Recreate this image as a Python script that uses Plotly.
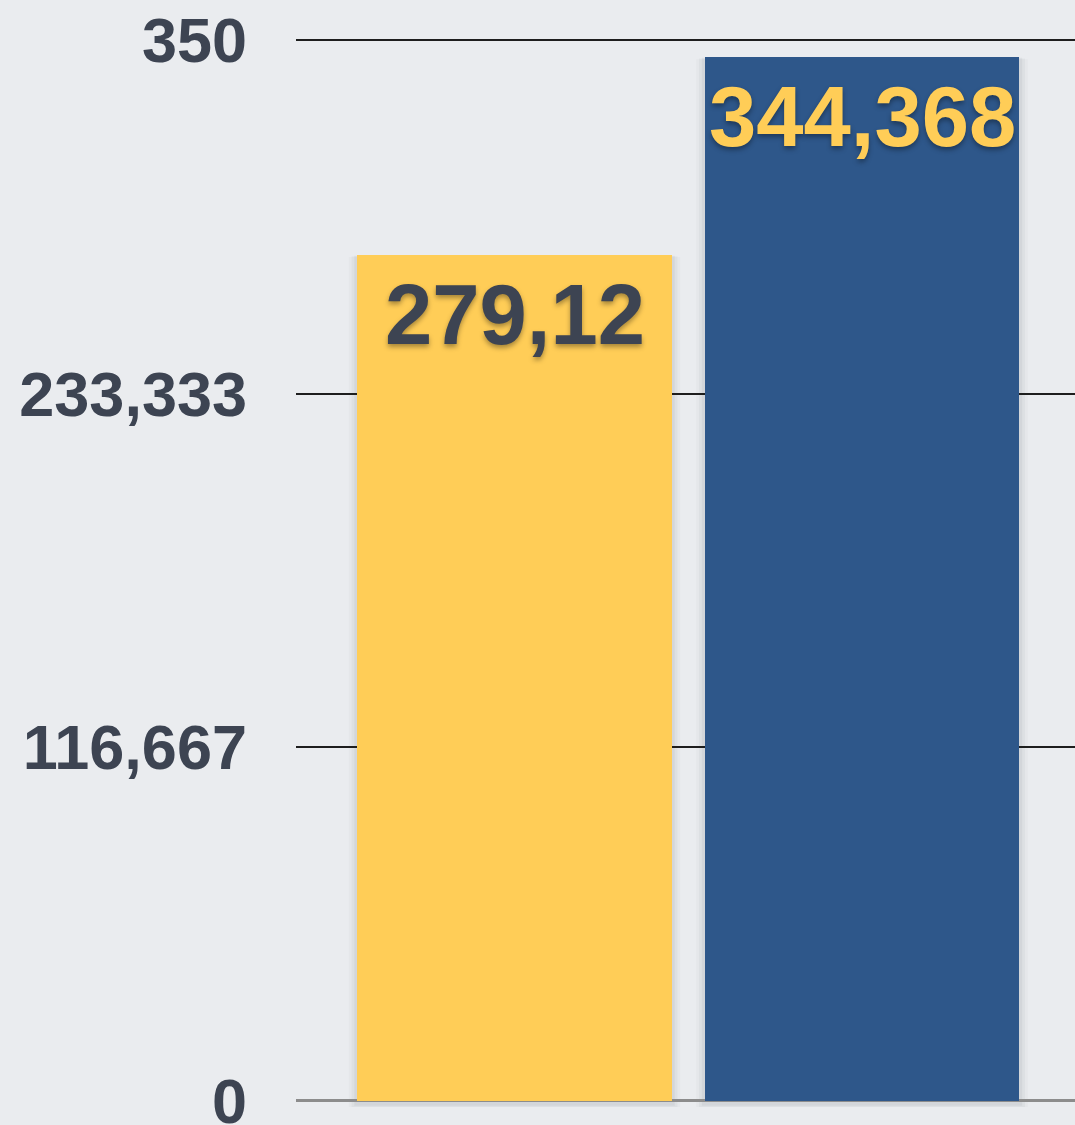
import plotly.graph_objects as go

# Bar data
categories = ["A", "B"]
values = [279120, 344368]
value_labels = ["279,12", "344,368"]
bar_colors = ["#FFCD57", "#2E578A"]
label_colors = ["#3D4452", "#FFCD57"]

# Y axis ticks
tick_values = [0, 116667, 233333, 350000]
tick_labels = ["0", "116,667", "233,333", "350"]

x_pos = list(range(len(categories)))

fig = go.Figure()

# soft drop shadow layers under each bar
for spread, alpha in [(0.024, 0.025), (0.016, 0.035), (0.008, 0.05)]:
    for xi, v in zip(x_pos, values):
        fig.add_shape(
            type="rect", xref="x", yref="y",
            x0=xi - 0.453 - spread, x1=xi + 0.453 + spread,
            y0=-spread * 200000, y1=v - spread * 30000,
            fillcolor=f"rgba(40,45,60,{alpha})", line_width=0, layer="below",
        )

fig.add_trace(go.Bar(
    x=x_pos, y=values, width=0.906,
    marker=dict(color=bar_colors, line_width=0),
    hoverinfo="skip", showlegend=False,
))

for xi, v, t, c in zip(x_pos, values, value_labels, label_colors):
    fig.add_annotation(
        x=xi, y=v, xref="x", yref="y", text=f"<b>{t}</b>",
        showarrow=False, yanchor="top", xanchor="center", yshift=-10,
        font=dict(family="Liberation Sans, Arial, sans-serif", size=85, color=c,
                  shadow="0px 3px 5px rgba(0,0,0,0.35)"),
    )

fig.update_layout(
    width=1075, height=1125,
    margin=dict(l=296, r=0, t=34, b=18, autoexpand=False),
    paper_bgcolor="#EAECEF", plot_bgcolor="rgba(0,0,0,0)",
    bargap=0,
    xaxis=dict(range=[-0.629, 1.613], showgrid=False, zeroline=False,
               showticklabels=False, ticks="", fixedrange=True, automargin=False),
    yaxis=dict(range=[-2000, 352000], tickvals=tick_values, ticktext=tick_labels,
               showgrid=True, gridcolor="#1E1E1E", gridwidth=2,
               zeroline=True, zerolinecolor="#8C8C8C", zerolinewidth=3,
               ticks="", ticklabelstandoff=48, ticklabeloverflow="allow",
               automargin=False,
               tickfont=dict(family="Liberation Sans, Arial, sans-serif", size=63,
                             color="#3D4452", weight="bold")),
)

fig.write_html("out.html")
